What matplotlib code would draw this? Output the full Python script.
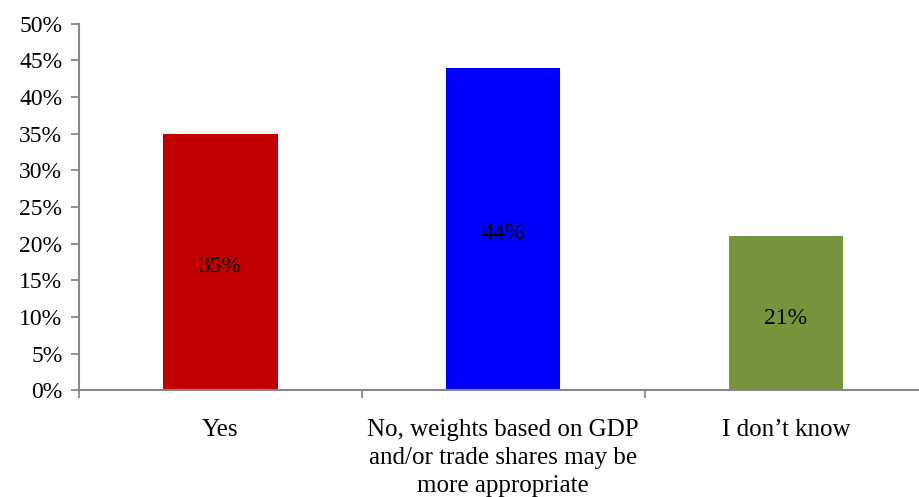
import matplotlib
matplotlib.use("Agg")
import matplotlib.pyplot as plt
from matplotlib.ticker import FixedLocator, PercentFormatter

plt.rcParams["font.family"] = ["Liberation Serif", "DejaVu Serif"]

categories = ["Yes", "No, weights based on GDP\nand/or trade shares may be\nmore appropriate", "I don\u2019t know"]
values = [35, 44, 21]
colors = ["#C00000", "#0000FF", "#77933C"]

figure = plt.figure(figsize=(9.19, 4.97), dpi=100)
axis = figure.add_axes([0.086, 0.215, 0.923, 0.737])

positions = list(range(len(categories)))
bars = axis.bar(positions, values, width=0.404, color=colors)
for bar, value in zip(bars, values):
    axis.annotate(f"{value}%", (bar.get_x() + bar.get_width() / 2, value / 2),
                  xytext=(0, -3.6), textcoords="offset points",
                  ha="center", va="center", fontsize=17, color="black")

axis.set_xlim(-0.5, len(categories) - 0.5)
axis.set_ylim(0, 50)
axis.set_yticks(range(0, 51, 5))
axis.yaxis.set_major_formatter(PercentFormatter(decimals=0))
axis.set_xticks(positions)
axis.set_xticklabels(categories, fontsize=18, linespacing=1.34, va="top")
axis.xaxis.set_minor_locator(FixedLocator([p - 0.5 for p in range(len(categories) + 1)]))
axis.tick_params(axis="x", which="major", length=0, pad=21)
axis.tick_params(axis="x", which="minor", length=6, color="#878787", width=1.3)
axis.tick_params(axis="y", length=6, color="#878787", width=1.3, labelsize=17, pad=6)

for side in ["top", "right"]:
    axis.spines[side].set_visible(False)
for side in ["left", "bottom"]:
    axis.spines[side].set_color("#878787")
    axis.spines[side].set_linewidth(1.5)

figure.savefig("out.png", dpi=100)
